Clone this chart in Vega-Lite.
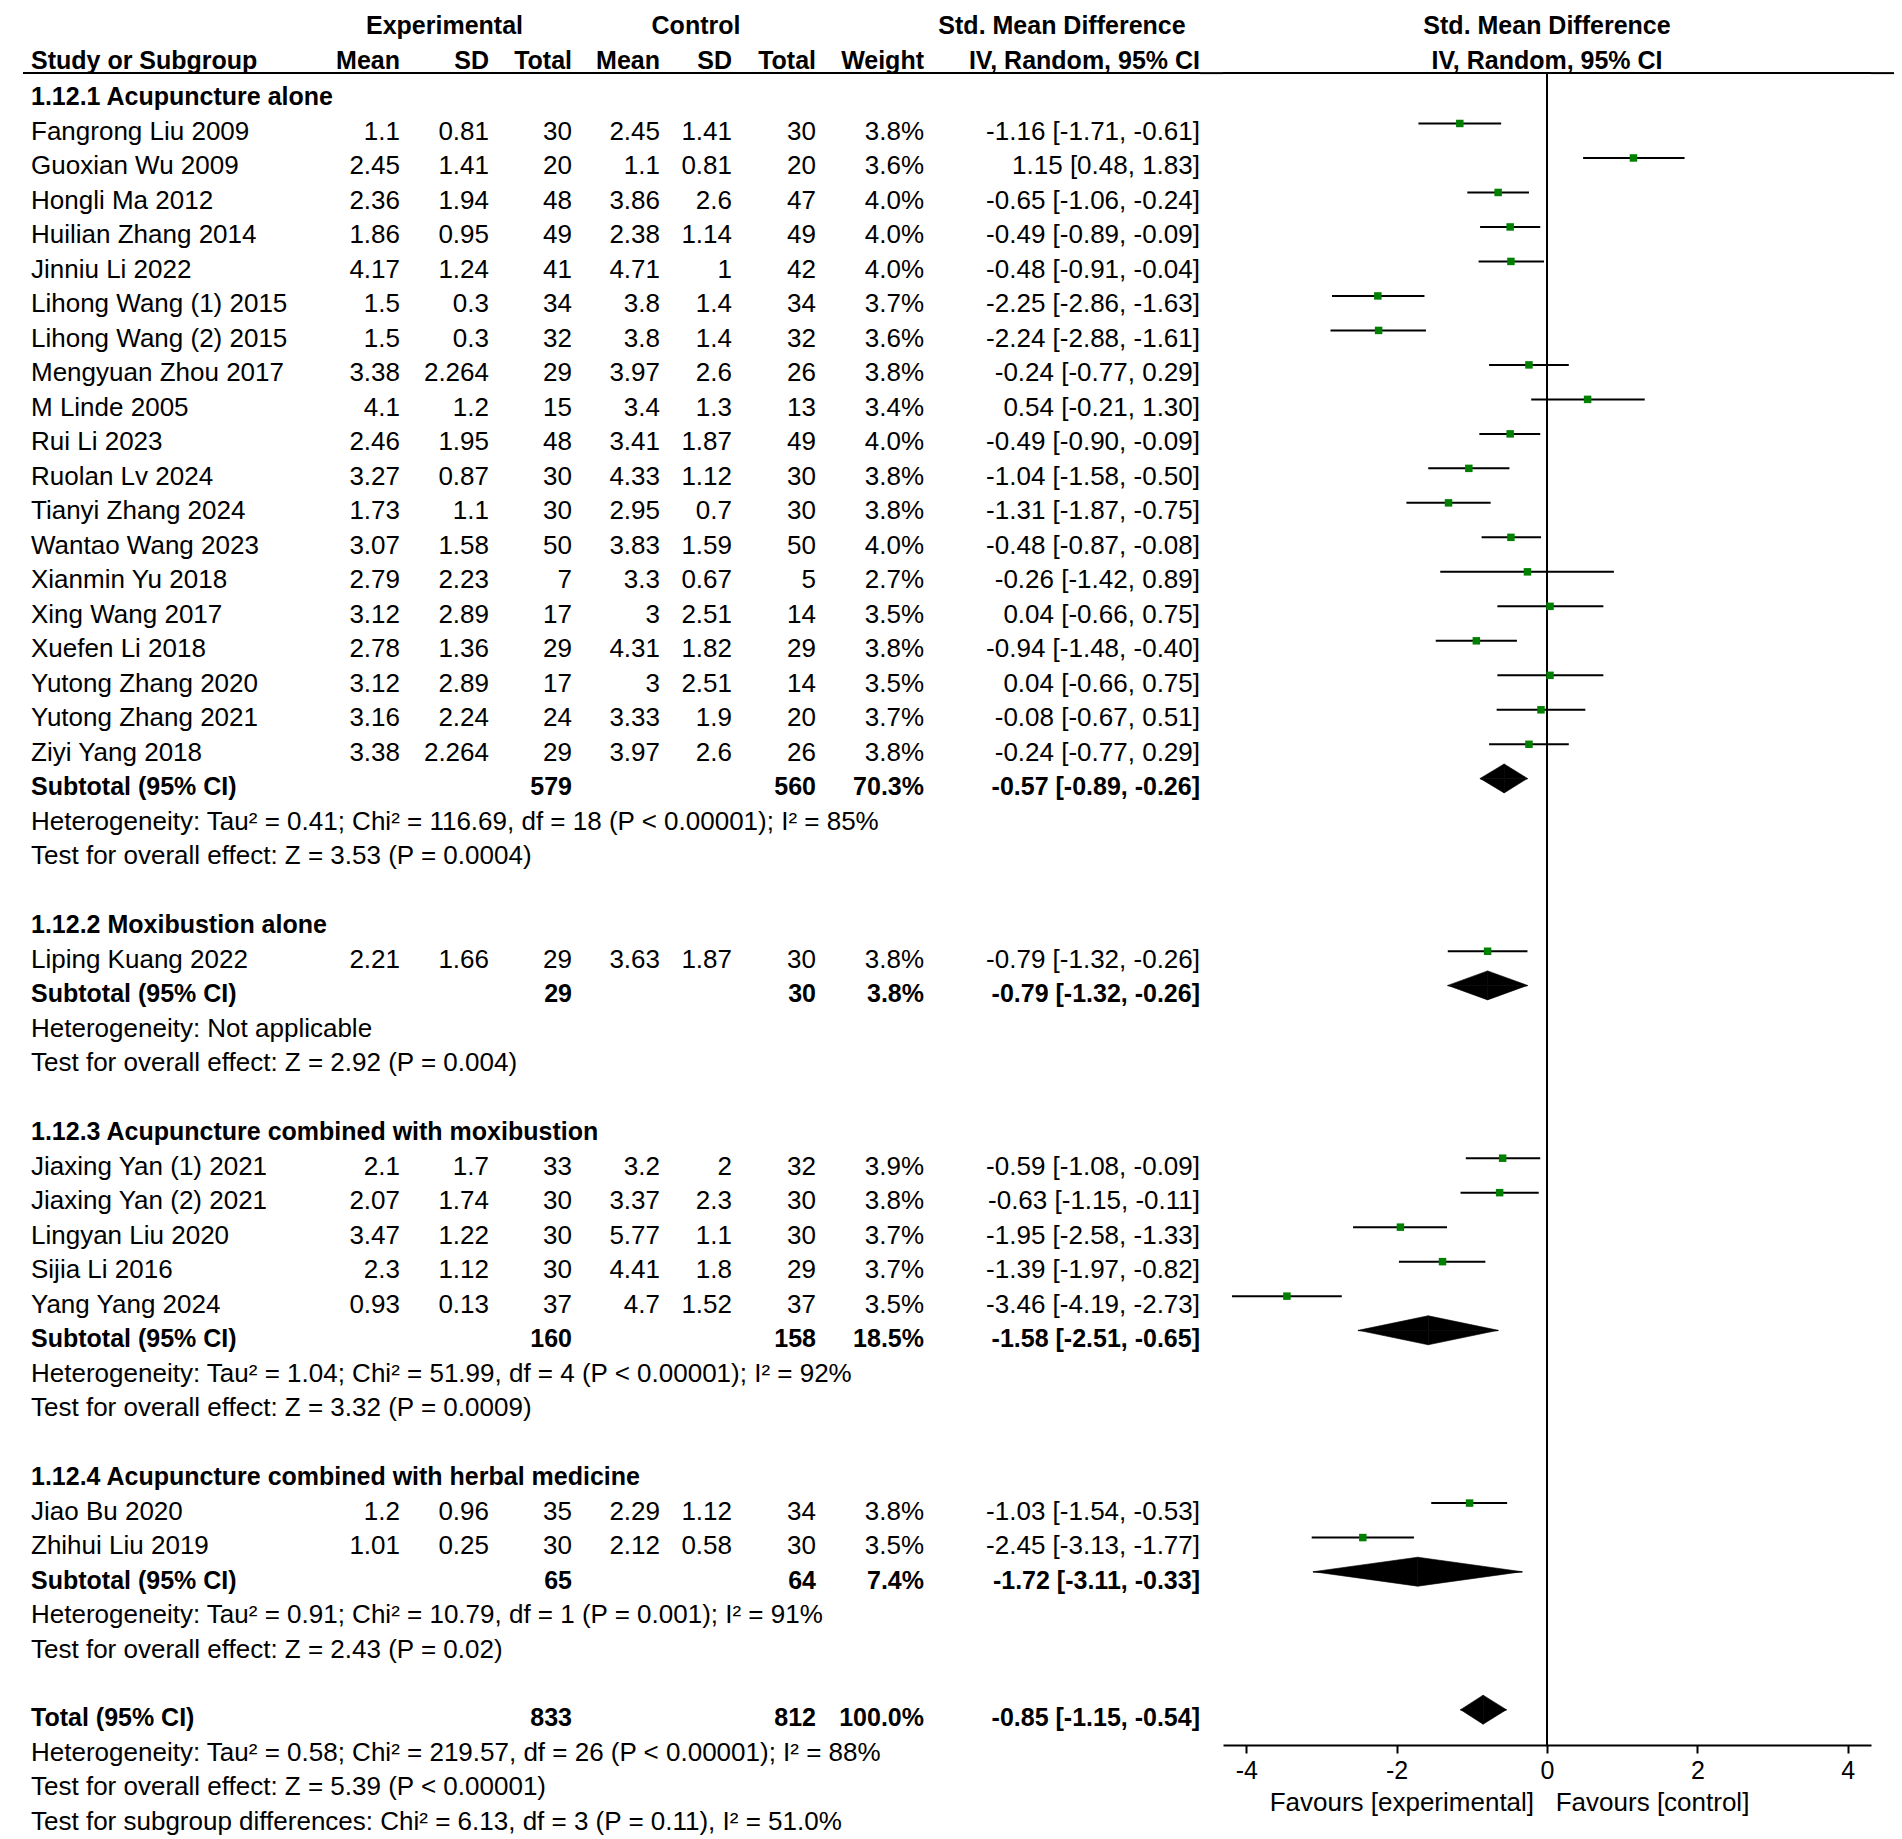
{
  "$schema": "https://vega.github.io/schema/vega-lite/v6.json",
  "padding": {"left": 22, "top": 0, "right": 9, "bottom": 0},
  "background": "white",
  "bounds": "flush",
  "spacing": 0,
  "config": {
    "view": {"stroke": null},
    "text": {"font": "Liberation Sans", "fontSize": 26, "color": "black", "baseline": "middle"},
    "axis": {"labelFont": "Liberation Sans", "titleFont": "Liberation Sans"}
  },
  "datasets": {
    "heads": [
      {"row": 1, "col": "study", "text": "Study or Subgroup"},
      {"row": 0, "col": "esd", "text": "Experimental"},
      {"row": 1, "col": "em", "text": "Mean"},
      {"row": 1, "col": "esd", "text": "SD"},
      {"row": 1, "col": "en", "text": "Total"},
      {"row": 0, "col": "csd", "text": "Control"},
      {"row": 1, "col": "cm", "text": "Mean"},
      {"row": 1, "col": "csd", "text": "SD"},
      {"row": 1, "col": "cn", "text": "Total"},
      {"row": 1, "col": "w", "text": "Weight"},
      {"row": 0, "col": "ci", "text": "Std. Mean Difference"},
      {"row": 1, "col": "ci", "text": "IV, Random, 95% CI"},
      {"row": 0, "col": "plot", "text": "Std. Mean Difference"},
      {"row": 1, "col": "plot", "text": "IV, Random, 95% CI"}
    ],
    "rows": [
      {"row": 2, "kind": "group", "label": "1.12.1 Acupuncture alone"},
      {"row": 3, "kind": "study", "label": "Fangrong Liu 2009", "em": 1.1, "esd": 0.81, "en": 30, "cm": 2.45, "csd": 1.41, "cn": 30, "w": 0.038, "ci": "-1.16 [-1.71, -0.61]", "smd": -1.16, "lo": -1.71, "hi": -0.61},
      {"row": 4, "kind": "study", "label": "Guoxian Wu 2009", "em": 2.45, "esd": 1.41, "en": 20, "cm": 1.1, "csd": 0.81, "cn": 20, "w": 0.036, "ci": "1.15 [0.48, 1.83]", "smd": 1.15, "lo": 0.48, "hi": 1.83},
      {"row": 5, "kind": "study", "label": "Hongli Ma 2012", "em": 2.36, "esd": 1.94, "en": 48, "cm": 3.86, "csd": 2.6, "cn": 47, "w": 0.04, "ci": "-0.65 [-1.06, -0.24]", "smd": -0.65, "lo": -1.06, "hi": -0.24},
      {"row": 6, "kind": "study", "label": "Huilian Zhang 2014", "em": 1.86, "esd": 0.95, "en": 49, "cm": 2.38, "csd": 1.14, "cn": 49, "w": 0.04, "ci": "-0.49 [-0.89, -0.09]", "smd": -0.49, "lo": -0.89, "hi": -0.09},
      {"row": 7, "kind": "study", "label": "Jinniu Li 2022", "em": 4.17, "esd": 1.24, "en": 41, "cm": 4.71, "csd": 1, "cn": 42, "w": 0.04, "ci": "-0.48 [-0.91, -0.04]", "smd": -0.48, "lo": -0.91, "hi": -0.04},
      {"row": 8, "kind": "study", "label": "Lihong Wang (1) 2015", "em": 1.5, "esd": 0.3, "en": 34, "cm": 3.8, "csd": 1.4, "cn": 34, "w": 0.037, "ci": "-2.25 [-2.86, -1.63]", "smd": -2.25, "lo": -2.86, "hi": -1.63},
      {"row": 9, "kind": "study", "label": "Lihong Wang (2) 2015", "em": 1.5, "esd": 0.3, "en": 32, "cm": 3.8, "csd": 1.4, "cn": 32, "w": 0.036, "ci": "-2.24 [-2.88, -1.61]", "smd": -2.24, "lo": -2.88, "hi": -1.61},
      {"row": 10, "kind": "study", "label": "Mengyuan Zhou 2017", "em": 3.38, "esd": 2.264, "en": 29, "cm": 3.97, "csd": 2.6, "cn": 26, "w": 0.038, "ci": "-0.24 [-0.77, 0.29]", "smd": -0.24, "lo": -0.77, "hi": 0.29},
      {"row": 11, "kind": "study", "label": "M Linde 2005", "em": 4.1, "esd": 1.2, "en": 15, "cm": 3.4, "csd": 1.3, "cn": 13, "w": 0.034, "ci": "0.54 [-0.21, 1.30]", "smd": 0.54, "lo": -0.21, "hi": 1.3},
      {"row": 12, "kind": "study", "label": "Rui Li 2023", "em": 2.46, "esd": 1.95, "en": 48, "cm": 3.41, "csd": 1.87, "cn": 49, "w": 0.04, "ci": "-0.49 [-0.90, -0.09]", "smd": -0.49, "lo": -0.9, "hi": -0.09},
      {"row": 13, "kind": "study", "label": "Ruolan Lv 2024", "em": 3.27, "esd": 0.87, "en": 30, "cm": 4.33, "csd": 1.12, "cn": 30, "w": 0.038, "ci": "-1.04 [-1.58, -0.50]", "smd": -1.04, "lo": -1.58, "hi": -0.5},
      {"row": 14, "kind": "study", "label": "Tianyi Zhang 2024", "em": 1.73, "esd": 1.1, "en": 30, "cm": 2.95, "csd": 0.7, "cn": 30, "w": 0.038, "ci": "-1.31 [-1.87, -0.75]", "smd": -1.31, "lo": -1.87, "hi": -0.75},
      {"row": 15, "kind": "study", "label": "Wantao Wang 2023", "em": 3.07, "esd": 1.58, "en": 50, "cm": 3.83, "csd": 1.59, "cn": 50, "w": 0.04, "ci": "-0.48 [-0.87, -0.08]", "smd": -0.48, "lo": -0.87, "hi": -0.08},
      {"row": 16, "kind": "study", "label": "Xianmin Yu 2018", "em": 2.79, "esd": 2.23, "en": 7, "cm": 3.3, "csd": 0.67, "cn": 5, "w": 0.027, "ci": "-0.26 [-1.42, 0.89]", "smd": -0.26, "lo": -1.42, "hi": 0.89},
      {"row": 17, "kind": "study", "label": "Xing Wang 2017", "em": 3.12, "esd": 2.89, "en": 17, "cm": 3, "csd": 2.51, "cn": 14, "w": 0.035, "ci": "0.04 [-0.66, 0.75]", "smd": 0.04, "lo": -0.66, "hi": 0.75},
      {"row": 18, "kind": "study", "label": "Xuefen Li 2018", "em": 2.78, "esd": 1.36, "en": 29, "cm": 4.31, "csd": 1.82, "cn": 29, "w": 0.038, "ci": "-0.94 [-1.48, -0.40]", "smd": -0.94, "lo": -1.48, "hi": -0.4},
      {"row": 19, "kind": "study", "label": "Yutong Zhang 2020", "em": 3.12, "esd": 2.89, "en": 17, "cm": 3, "csd": 2.51, "cn": 14, "w": 0.035, "ci": "0.04 [-0.66, 0.75]", "smd": 0.04, "lo": -0.66, "hi": 0.75},
      {"row": 20, "kind": "study", "label": "Yutong Zhang 2021", "em": 3.16, "esd": 2.24, "en": 24, "cm": 3.33, "csd": 1.9, "cn": 20, "w": 0.037, "ci": "-0.08 [-0.67, 0.51]", "smd": -0.08, "lo": -0.67, "hi": 0.51},
      {"row": 21, "kind": "study", "label": "Ziyi Yang 2018", "em": 3.38, "esd": 2.264, "en": 29, "cm": 3.97, "csd": 2.6, "cn": 26, "w": 0.038, "ci": "-0.24 [-0.77, 0.29]", "smd": -0.24, "lo": -0.77, "hi": 0.29},
      {"row": 22, "kind": "subtotal", "label": "Subtotal (95% CI)", "en": 579, "cn": 560, "w": 0.703, "ci": "-0.57 [-0.89, -0.26]", "smd": -0.57, "lo": -0.89, "hi": -0.26},
      {"row": 23, "kind": "note", "label": "Heterogeneity: Tau² = 0.41; Chi² = 116.69, df = 18 (P < 0.00001); I² = 85%"},
      {"row": 24, "kind": "note", "label": "Test for overall effect: Z = 3.53 (P = 0.0004)"},
      {"row": 26, "kind": "group", "label": "1.12.2 Moxibustion alone"},
      {"row": 27, "kind": "study", "label": "Liping Kuang 2022", "em": 2.21, "esd": 1.66, "en": 29, "cm": 3.63, "csd": 1.87, "cn": 30, "w": 0.038, "ci": "-0.79 [-1.32, -0.26]", "smd": -0.79, "lo": -1.32, "hi": -0.26},
      {"row": 28, "kind": "subtotal", "label": "Subtotal (95% CI)", "en": 29, "cn": 30, "w": 0.038, "ci": "-0.79 [-1.32, -0.26]", "smd": -0.79, "lo": -1.32, "hi": -0.26},
      {"row": 29, "kind": "note", "label": "Heterogeneity: Not applicable"},
      {"row": 30, "kind": "note", "label": "Test for overall effect: Z = 2.92 (P = 0.004)"},
      {"row": 32, "kind": "group", "label": "1.12.3 Acupuncture combined with moxibustion"},
      {"row": 33, "kind": "study", "label": "Jiaxing Yan (1) 2021", "em": 2.1, "esd": 1.7, "en": 33, "cm": 3.2, "csd": 2, "cn": 32, "w": 0.039, "ci": "-0.59 [-1.08, -0.09]", "smd": -0.59, "lo": -1.08, "hi": -0.09},
      {"row": 34, "kind": "study", "label": "Jiaxing Yan (2) 2021", "em": 2.07, "esd": 1.74, "en": 30, "cm": 3.37, "csd": 2.3, "cn": 30, "w": 0.038, "ci": "-0.63 [-1.15, -0.11]", "smd": -0.63, "lo": -1.15, "hi": -0.11},
      {"row": 35, "kind": "study", "label": "Lingyan Liu 2020", "em": 3.47, "esd": 1.22, "en": 30, "cm": 5.77, "csd": 1.1, "cn": 30, "w": 0.037, "ci": "-1.95 [-2.58, -1.33]", "smd": -1.95, "lo": -2.58, "hi": -1.33},
      {"row": 36, "kind": "study", "label": "Sijia Li 2016", "em": 2.3, "esd": 1.12, "en": 30, "cm": 4.41, "csd": 1.8, "cn": 29, "w": 0.037, "ci": "-1.39 [-1.97, -0.82]", "smd": -1.39, "lo": -1.97, "hi": -0.82},
      {"row": 37, "kind": "study", "label": "Yang Yang 2024", "em": 0.93, "esd": 0.13, "en": 37, "cm": 4.7, "csd": 1.52, "cn": 37, "w": 0.035, "ci": "-3.46 [-4.19, -2.73]", "smd": -3.46, "lo": -4.19, "hi": -2.73},
      {"row": 38, "kind": "subtotal", "label": "Subtotal (95% CI)", "en": 160, "cn": 158, "w": 0.185, "ci": "-1.58 [-2.51, -0.65]", "smd": -1.58, "lo": -2.51, "hi": -0.65},
      {"row": 39, "kind": "note", "label": "Heterogeneity: Tau² = 1.04; Chi² = 51.99, df = 4 (P < 0.00001); I² = 92%"},
      {"row": 40, "kind": "note", "label": "Test for overall effect: Z = 3.32 (P = 0.0009)"},
      {"row": 42, "kind": "group", "label": "1.12.4 Acupuncture combined with herbal medicine"},
      {"row": 43, "kind": "study", "label": "Jiao Bu 2020", "em": 1.2, "esd": 0.96, "en": 35, "cm": 2.29, "csd": 1.12, "cn": 34, "w": 0.038, "ci": "-1.03 [-1.54, -0.53]", "smd": -1.03, "lo": -1.54, "hi": -0.53},
      {"row": 44, "kind": "study", "label": "Zhihui Liu 2019", "em": 1.01, "esd": 0.25, "en": 30, "cm": 2.12, "csd": 0.58, "cn": 30, "w": 0.035, "ci": "-2.45 [-3.13, -1.77]", "smd": -2.45, "lo": -3.13, "hi": -1.77},
      {"row": 45, "kind": "subtotal", "label": "Subtotal (95% CI)", "en": 65, "cn": 64, "w": 0.074, "ci": "-1.72 [-3.11, -0.33]", "smd": -1.72, "lo": -3.11, "hi": -0.33},
      {"row": 46, "kind": "note", "label": "Heterogeneity: Tau² = 0.91; Chi² = 10.79, df = 1 (P = 0.001); I² = 91%"},
      {"row": 47, "kind": "note", "label": "Test for overall effect: Z = 2.43 (P = 0.02)"},
      {"row": 49, "kind": "total", "label": "Total (95% CI)", "en": 833, "cn": 812, "w": 1.0, "ci": "-0.85 [-1.15, -0.54]", "smd": -0.85, "lo": -1.15, "hi": -0.54},
      {"row": 50, "kind": "note", "label": "Heterogeneity: Tau² = 0.58; Chi² = 219.57, df = 26 (P < 0.00001); I² = 88%"},
      {"row": 51, "kind": "note", "label": "Test for overall effect: Z = 5.39 (P < 0.00001)"},
      {"row": 52, "kind": "note", "label": "Test for subgroup differences: Chi² = 6.13, df = 3 (P = 0.11), I² = 51.0%"}
    ]
  },
  "hconcat": [
    {
      "width": 298, "height": 1839,
      "layer": [
        {"data": {"values": [{}]}, "mark": {"type": "rule", "strokeWidth": 2, "color": "black"}, "encoding": {"y": {"datum": 1.2935, "type": "quantitative", "scale": {"domain": [-0.8263, 52.494], "reverse": true, "nice": false, "zero": false}, "axis": null}}},
        {"data": {"name": "heads"}, "transform": [{"filter": "datum.col == 'study'"}], "mark": {"type": "text", "align": "left", "fontWeight": "bold", "fontSize": 25, "dx": 8, "dy": -2}, "encoding": {"x": {"datum": 0, "type": "quantitative", "scale": {"domain": [0, 1], "nice": false, "zero": false}, "axis": null}, "y": {"field": "row", "type": "quantitative", "scale": {"domain": [-0.8263, 52.494], "reverse": true, "nice": false, "zero": false}, "axis": null}, "text": {"field": "text", "type": "nominal"}}},
        {"data": {"name": "rows"}, "transform": [{"filter": "datum.kind == 'study' || datum.kind == 'note'"}], "mark": {"type": "text", "align": "left", "dx": 8}, "encoding": {"x": {"datum": 0, "type": "quantitative", "scale": {"domain": [0, 1], "nice": false, "zero": false}, "axis": null}, "y": {"field": "row", "type": "quantitative", "scale": {"domain": [-0.8263, 52.494], "reverse": true, "nice": false, "zero": false}, "axis": null}, "text": {"field": "label", "type": "nominal"}}},
        {"data": {"name": "rows"}, "transform": [{"filter": "datum.kind == 'group' || datum.kind == 'subtotal' || datum.kind == 'total'"}], "mark": {"type": "text", "align": "left", "fontWeight": "bold", "fontSize": 25, "dx": 8}, "encoding": {"x": {"datum": 0, "type": "quantitative", "scale": {"domain": [0, 1], "nice": false, "zero": false}, "axis": null}, "y": {"field": "row", "type": "quantitative", "scale": {"domain": [-0.8263, 52.494], "reverse": true, "nice": false, "zero": false}, "axis": null}, "text": {"field": "label", "type": "nominal"}}}
      ]
    },
    {
      "width": 79, "height": 1839,
      "layer": [
        {"data": {"values": [{}]}, "mark": {"type": "rule", "strokeWidth": 2, "color": "black"}, "encoding": {"y": {"datum": 1.2935, "type": "quantitative", "scale": {"domain": [-0.8263, 52.494], "reverse": true, "nice": false, "zero": false}, "axis": null}}},
        {"data": {"name": "heads"}, "transform": [{"filter": "datum.col == 'em'"}], "mark": {"type": "text", "align": "right", "fontWeight": "bold", "fontSize": 25, "dy": -2}, "encoding": {"x": {"datum": 1, "type": "quantitative", "scale": {"domain": [0, 1], "nice": false, "zero": false}, "axis": null}, "y": {"field": "row", "type": "quantitative", "scale": {"domain": [-0.8263, 52.494], "reverse": true, "nice": false, "zero": false}, "axis": null}, "text": {"field": "text", "type": "nominal"}}},
        {"data": {"name": "rows"}, "transform": [{"filter": "datum.kind == 'study'"}], "mark": {"type": "text", "align": "right"}, "encoding": {"x": {"datum": 1, "type": "quantitative", "scale": {"domain": [0, 1], "nice": false, "zero": false}, "axis": null}, "y": {"field": "row", "type": "quantitative", "scale": {"domain": [-0.8263, 52.494], "reverse": true, "nice": false, "zero": false}, "axis": null}, "text": {"field": "em", "type": "nominal"}}}
      ]
    },
    {
      "width": 89, "height": 1839,
      "layer": [
        {"data": {"values": [{}]}, "mark": {"type": "rule", "strokeWidth": 2, "color": "black"}, "encoding": {"y": {"datum": 1.2935, "type": "quantitative", "scale": {"domain": [-0.8263, 52.494], "reverse": true, "nice": false, "zero": false}, "axis": null}}},
        {"data": {"name": "heads"}, "transform": [{"filter": "datum.col == 'esd' && datum.row == 1"}], "mark": {"type": "text", "align": "right", "fontWeight": "bold", "fontSize": 25, "dy": -2}, "encoding": {"x": {"datum": 1, "type": "quantitative", "scale": {"domain": [0, 1], "nice": false, "zero": false}, "axis": null}, "y": {"field": "row", "type": "quantitative", "scale": {"domain": [-0.8263, 52.494], "reverse": true, "nice": false, "zero": false}, "axis": null}, "text": {"field": "text", "type": "nominal"}}},
        {"data": {"name": "heads"}, "transform": [{"filter": "datum.col == 'esd' && datum.row == 0"}], "mark": {"type": "text", "align": "center", "fontWeight": "bold", "fontSize": 25, "dy": -2}, "encoding": {"x": {"datum": 0.5, "type": "quantitative", "scale": {"domain": [0, 1], "nice": false, "zero": false}, "axis": null}, "y": {"field": "row", "type": "quantitative", "scale": {"domain": [-0.8263, 52.494], "reverse": true, "nice": false, "zero": false}, "axis": null}, "text": {"field": "text", "type": "nominal"}}},
        {"data": {"name": "rows"}, "transform": [{"filter": "datum.kind == 'study'"}], "mark": {"type": "text", "align": "right"}, "encoding": {"x": {"datum": 1, "type": "quantitative", "scale": {"domain": [0, 1], "nice": false, "zero": false}, "axis": null}, "y": {"field": "row", "type": "quantitative", "scale": {"domain": [-0.8263, 52.494], "reverse": true, "nice": false, "zero": false}, "axis": null}, "text": {"field": "esd", "type": "nominal"}}}
      ]
    },
    {
      "width": 83, "height": 1839,
      "layer": [
        {"data": {"values": [{}]}, "mark": {"type": "rule", "strokeWidth": 2, "color": "black"}, "encoding": {"y": {"datum": 1.2935, "type": "quantitative", "scale": {"domain": [-0.8263, 52.494], "reverse": true, "nice": false, "zero": false}, "axis": null}}},
        {"data": {"name": "heads"}, "transform": [{"filter": "datum.col == 'en'"}], "mark": {"type": "text", "align": "right", "fontWeight": "bold", "fontSize": 25, "dy": -2}, "encoding": {"x": {"datum": 1, "type": "quantitative", "scale": {"domain": [0, 1], "nice": false, "zero": false}, "axis": null}, "y": {"field": "row", "type": "quantitative", "scale": {"domain": [-0.8263, 52.494], "reverse": true, "nice": false, "zero": false}, "axis": null}, "text": {"field": "text", "type": "nominal"}}},
        {"data": {"name": "rows"}, "transform": [{"filter": "datum.kind == 'study'"}], "mark": {"type": "text", "align": "right"}, "encoding": {"x": {"datum": 1, "type": "quantitative", "scale": {"domain": [0, 1], "nice": false, "zero": false}, "axis": null}, "y": {"field": "row", "type": "quantitative", "scale": {"domain": [-0.8263, 52.494], "reverse": true, "nice": false, "zero": false}, "axis": null}, "text": {"field": "en", "type": "nominal"}}},
        {"data": {"name": "rows"}, "transform": [{"filter": "datum.kind == 'subtotal' || datum.kind == 'total'"}], "mark": {"type": "text", "align": "right", "fontWeight": "bold", "fontSize": 25}, "encoding": {"x": {"datum": 1, "type": "quantitative", "scale": {"domain": [0, 1], "nice": false, "zero": false}, "axis": null}, "y": {"field": "row", "type": "quantitative", "scale": {"domain": [-0.8263, 52.494], "reverse": true, "nice": false, "zero": false}, "axis": null}, "text": {"field": "en", "type": "nominal"}}}
      ]
    },
    {
      "width": 88, "height": 1839,
      "layer": [
        {"data": {"values": [{}]}, "mark": {"type": "rule", "strokeWidth": 2, "color": "black"}, "encoding": {"y": {"datum": 1.2935, "type": "quantitative", "scale": {"domain": [-0.8263, 52.494], "reverse": true, "nice": false, "zero": false}, "axis": null}}},
        {"data": {"name": "heads"}, "transform": [{"filter": "datum.col == 'cm'"}], "mark": {"type": "text", "align": "right", "fontWeight": "bold", "fontSize": 25, "dy": -2}, "encoding": {"x": {"datum": 1, "type": "quantitative", "scale": {"domain": [0, 1], "nice": false, "zero": false}, "axis": null}, "y": {"field": "row", "type": "quantitative", "scale": {"domain": [-0.8263, 52.494], "reverse": true, "nice": false, "zero": false}, "axis": null}, "text": {"field": "text", "type": "nominal"}}},
        {"data": {"name": "rows"}, "transform": [{"filter": "datum.kind == 'study'"}], "mark": {"type": "text", "align": "right"}, "encoding": {"x": {"datum": 1, "type": "quantitative", "scale": {"domain": [0, 1], "nice": false, "zero": false}, "axis": null}, "y": {"field": "row", "type": "quantitative", "scale": {"domain": [-0.8263, 52.494], "reverse": true, "nice": false, "zero": false}, "axis": null}, "text": {"field": "cm", "type": "nominal"}}}
      ]
    },
    {
      "width": 72, "height": 1839,
      "layer": [
        {"data": {"values": [{}]}, "mark": {"type": "rule", "strokeWidth": 2, "color": "black"}, "encoding": {"y": {"datum": 1.2935, "type": "quantitative", "scale": {"domain": [-0.8263, 52.494], "reverse": true, "nice": false, "zero": false}, "axis": null}}},
        {"data": {"name": "heads"}, "transform": [{"filter": "datum.col == 'csd' && datum.row == 1"}], "mark": {"type": "text", "align": "right", "fontWeight": "bold", "fontSize": 25, "dy": -2}, "encoding": {"x": {"datum": 1, "type": "quantitative", "scale": {"domain": [0, 1], "nice": false, "zero": false}, "axis": null}, "y": {"field": "row", "type": "quantitative", "scale": {"domain": [-0.8263, 52.494], "reverse": true, "nice": false, "zero": false}, "axis": null}, "text": {"field": "text", "type": "nominal"}}},
        {"data": {"name": "heads"}, "transform": [{"filter": "datum.col == 'csd' && datum.row == 0"}], "mark": {"type": "text", "align": "center", "fontWeight": "bold", "fontSize": 25, "dy": -2}, "encoding": {"x": {"datum": 0.5, "type": "quantitative", "scale": {"domain": [0, 1], "nice": false, "zero": false}, "axis": null}, "y": {"field": "row", "type": "quantitative", "scale": {"domain": [-0.8263, 52.494], "reverse": true, "nice": false, "zero": false}, "axis": null}, "text": {"field": "text", "type": "nominal"}}},
        {"data": {"name": "rows"}, "transform": [{"filter": "datum.kind == 'study'"}], "mark": {"type": "text", "align": "right"}, "encoding": {"x": {"datum": 1, "type": "quantitative", "scale": {"domain": [0, 1], "nice": false, "zero": false}, "axis": null}, "y": {"field": "row", "type": "quantitative", "scale": {"domain": [-0.8263, 52.494], "reverse": true, "nice": false, "zero": false}, "axis": null}, "text": {"field": "csd", "type": "nominal"}}}
      ]
    },
    {
      "width": 84, "height": 1839,
      "layer": [
        {"data": {"values": [{}]}, "mark": {"type": "rule", "strokeWidth": 2, "color": "black"}, "encoding": {"y": {"datum": 1.2935, "type": "quantitative", "scale": {"domain": [-0.8263, 52.494], "reverse": true, "nice": false, "zero": false}, "axis": null}}},
        {"data": {"name": "heads"}, "transform": [{"filter": "datum.col == 'cn'"}], "mark": {"type": "text", "align": "right", "fontWeight": "bold", "fontSize": 25, "dy": -2}, "encoding": {"x": {"datum": 1, "type": "quantitative", "scale": {"domain": [0, 1], "nice": false, "zero": false}, "axis": null}, "y": {"field": "row", "type": "quantitative", "scale": {"domain": [-0.8263, 52.494], "reverse": true, "nice": false, "zero": false}, "axis": null}, "text": {"field": "text", "type": "nominal"}}},
        {"data": {"name": "rows"}, "transform": [{"filter": "datum.kind == 'study'"}], "mark": {"type": "text", "align": "right"}, "encoding": {"x": {"datum": 1, "type": "quantitative", "scale": {"domain": [0, 1], "nice": false, "zero": false}, "axis": null}, "y": {"field": "row", "type": "quantitative", "scale": {"domain": [-0.8263, 52.494], "reverse": true, "nice": false, "zero": false}, "axis": null}, "text": {"field": "cn", "type": "nominal"}}},
        {"data": {"name": "rows"}, "transform": [{"filter": "datum.kind == 'subtotal' || datum.kind == 'total'"}], "mark": {"type": "text", "align": "right", "fontWeight": "bold", "fontSize": 25}, "encoding": {"x": {"datum": 1, "type": "quantitative", "scale": {"domain": [0, 1], "nice": false, "zero": false}, "axis": null}, "y": {"field": "row", "type": "quantitative", "scale": {"domain": [-0.8263, 52.494], "reverse": true, "nice": false, "zero": false}, "axis": null}, "text": {"field": "cn", "type": "nominal"}}}
      ]
    },
    {
      "width": 108, "height": 1839,
      "layer": [
        {"data": {"values": [{}]}, "mark": {"type": "rule", "strokeWidth": 2, "color": "black"}, "encoding": {"y": {"datum": 1.2935, "type": "quantitative", "scale": {"domain": [-0.8263, 52.494], "reverse": true, "nice": false, "zero": false}, "axis": null}}},
        {"data": {"name": "heads"}, "transform": [{"filter": "datum.col == 'w'"}], "mark": {"type": "text", "align": "right", "fontWeight": "bold", "fontSize": 25, "dy": -2}, "encoding": {"x": {"datum": 1, "type": "quantitative", "scale": {"domain": [0, 1], "nice": false, "zero": false}, "axis": null}, "y": {"field": "row", "type": "quantitative", "scale": {"domain": [-0.8263, 52.494], "reverse": true, "nice": false, "zero": false}, "axis": null}, "text": {"field": "text", "type": "nominal"}}},
        {"data": {"name": "rows"}, "transform": [{"filter": "datum.kind == 'study'"}], "mark": {"type": "text", "align": "right"}, "encoding": {"x": {"datum": 1, "type": "quantitative", "scale": {"domain": [0, 1], "nice": false, "zero": false}, "axis": null}, "y": {"field": "row", "type": "quantitative", "scale": {"domain": [-0.8263, 52.494], "reverse": true, "nice": false, "zero": false}, "axis": null}, "text": {"field": "w", "type": "quantitative", "format": ".1%"}}},
        {"data": {"name": "rows"}, "transform": [{"filter": "datum.kind == 'subtotal' || datum.kind == 'total'"}], "mark": {"type": "text", "align": "right", "fontWeight": "bold", "fontSize": 25}, "encoding": {"x": {"datum": 1, "type": "quantitative", "scale": {"domain": [0, 1], "nice": false, "zero": false}, "axis": null}, "y": {"field": "row", "type": "quantitative", "scale": {"domain": [-0.8263, 52.494], "reverse": true, "nice": false, "zero": false}, "axis": null}, "text": {"field": "w", "type": "quantitative", "format": ".1%"}}}
      ]
    },
    {
      "width": 276, "height": 1839,
      "layer": [
        {"data": {"values": [{}]}, "mark": {"type": "rule", "strokeWidth": 2, "color": "black"}, "encoding": {"y": {"datum": 1.2935, "type": "quantitative", "scale": {"domain": [-0.8263, 52.494], "reverse": true, "nice": false, "zero": false}, "axis": null}}},
        {"data": {"name": "heads"}, "transform": [{"filter": "datum.col == 'ci' && datum.row == 1"}], "mark": {"type": "text", "align": "right", "fontWeight": "bold", "fontSize": 25, "dy": -2}, "encoding": {"x": {"datum": 1, "type": "quantitative", "scale": {"domain": [0, 1], "nice": false, "zero": false}, "axis": null}, "y": {"field": "row", "type": "quantitative", "scale": {"domain": [-0.8263, 52.494], "reverse": true, "nice": false, "zero": false}, "axis": null}, "text": {"field": "text", "type": "nominal"}}},
        {"data": {"name": "heads"}, "transform": [{"filter": "datum.col == 'ci' && datum.row == 0"}], "mark": {"type": "text", "align": "center", "fontWeight": "bold", "fontSize": 25, "dy": -2}, "encoding": {"x": {"datum": 0.5, "type": "quantitative", "scale": {"domain": [0, 1], "nice": false, "zero": false}, "axis": null}, "y": {"field": "row", "type": "quantitative", "scale": {"domain": [-0.8263, 52.494], "reverse": true, "nice": false, "zero": false}, "axis": null}, "text": {"field": "text", "type": "nominal"}}},
        {"data": {"name": "rows"}, "transform": [{"filter": "datum.kind == 'study'"}], "mark": {"type": "text", "align": "right"}, "encoding": {"x": {"datum": 1, "type": "quantitative", "scale": {"domain": [0, 1], "nice": false, "zero": false}, "axis": null}, "y": {"field": "row", "type": "quantitative", "scale": {"domain": [-0.8263, 52.494], "reverse": true, "nice": false, "zero": false}, "axis": null}, "text": {"field": "ci", "type": "nominal"}}},
        {"data": {"name": "rows"}, "transform": [{"filter": "datum.kind == 'subtotal' || datum.kind == 'total'"}], "mark": {"type": "text", "align": "right", "fontWeight": "bold", "fontSize": 25}, "encoding": {"x": {"datum": 1, "type": "quantitative", "scale": {"domain": [0, 1], "nice": false, "zero": false}, "axis": null}, "y": {"field": "row", "type": "quantitative", "scale": {"domain": [-0.8263, 52.494], "reverse": true, "nice": false, "zero": false}, "axis": null}, "text": {"field": "ci", "type": "nominal"}}}
      ]
    },
    {
      "width": 23, "height": 1839,
      "layer": [
        {"data": {"values": [{}]}, "mark": {"type": "rule", "strokeWidth": 2, "color": "black"}, "encoding": {"y": {"datum": 1.2935, "type": "quantitative", "scale": {"domain": [-0.8263, 52.494], "reverse": true, "nice": false, "zero": false}, "axis": null}}}
      ]
    },
    {
      "width": 648, "height": 1745,
      "resolve": {"scale": {"y": "independent", "yOffset": "independent"}},
      "layer": [
        {"data": {"values": [{}]}, "mark": {"type": "rule", "strokeWidth": 2, "color": "black"}, "encoding": {"y": {"datum": 1.54, "type": "quantitative", "scale": {"domain": [-0.5798, 50.014], "reverse": true, "nice": false, "zero": false}, "axis": null}}},
        {"data": {"values": [{}]}, "mark": {"type": "rule", "strokeWidth": 2, "color": "black"},
          "encoding": {
            "x": {"datum": 0, "type": "quantitative", "scale": {"domain": [-4.31, 4.31], "nice": false, "zero": false},
              "axis": {"values": [-4, -2, 0, 2, 4], "labelExpr": "'' + datum.value", "domain": true, "domainColor": "black", "domainWidth": 2, "ticks": true, "tickColor": "black", "tickWidth": 2, "tickSize": 8, "grid": false, "labelFontSize": 25, "labelColor": "black", "labelPadding": 5, "labelFlush": false, "labelOverlap": false, "title": "Favours [experimental]\u00a0\u00a0\u00a0Favours [control]", "titleFontSize": 26, "titleFontWeight": "normal", "titleColor": "black", "titleX": 286, "titleY": 57, "titleAlign": "center", "titleBaseline": "middle"}},
            "y": {"datum": 1.54, "type": "quantitative", "scale": {"domain": [-0.5798, 50.014], "reverse": true, "nice": false, "zero": false}, "axis": null},
            "y2": {"datum": 50.014}
          }},
        {"data": {"name": "rows"}, "transform": [{"filter": "datum.kind == 'study'"}], "mark": {"type": "rule", "strokeWidth": 2, "color": "black"},
          "encoding": {
            "x": {"field": "lo", "type": "quantitative", "scale": {"domain": [-4.31, 4.31], "nice": false, "zero": false},
              "axis": {"values": [-4, -2, 0, 2, 4], "labelExpr": "'' + datum.value", "domain": true, "domainColor": "black", "domainWidth": 2, "ticks": true, "tickColor": "black", "tickWidth": 2, "tickSize": 8, "grid": false, "labelFontSize": 25, "labelColor": "black", "labelPadding": 5, "labelFlush": false, "labelOverlap": false, "title": "Favours [experimental]\u00a0\u00a0\u00a0Favours [control]", "titleFontSize": 26, "titleFontWeight": "normal", "titleColor": "black", "titleX": 286, "titleY": 57, "titleAlign": "center", "titleBaseline": "middle"}},
            "x2": {"field": "hi"},
            "y": {"field": "row", "type": "quantitative", "scale": {"domain": [-0.5798, 50.014], "reverse": true, "nice": false, "zero": false}, "axis": null}
          }},
        {"data": {"name": "rows"}, "transform": [{"filter": "datum.kind == 'study'"}], "mark": {"type": "point", "shape": "square", "filled": true, "color": "#008000", "opacity": 1, "size": 56},
          "encoding": {
            "x": {"field": "smd", "type": "quantitative", "scale": {"domain": [-4.31, 4.31], "nice": false, "zero": false},
              "axis": {"values": [-4, -2, 0, 2, 4], "labelExpr": "'' + datum.value", "domain": true, "domainColor": "black", "domainWidth": 2, "ticks": true, "tickColor": "black", "tickWidth": 2, "tickSize": 8, "grid": false, "labelFontSize": 25, "labelColor": "black", "labelPadding": 5, "labelFlush": false, "labelOverlap": false, "title": "Favours [experimental]\u00a0\u00a0\u00a0Favours [control]", "titleFontSize": 26, "titleFontWeight": "normal", "titleColor": "black", "titleX": 286, "titleY": 57, "titleAlign": "center", "titleBaseline": "middle"}},
            "y": {"field": "row", "type": "quantitative", "scale": {"domain": [-0.5798, 50.014], "reverse": true, "nice": false, "zero": false}, "axis": null}
          }},
        {"data": {"name": "rows"}, "transform": [{"filter": "datum.kind == 'subtotal' || datum.kind == 'total'"}, {"fold": ["lo", "smd"], "as": ["pt", "val"]}],
          "mark": {"type": "area", "orient": "vertical", "color": "black", "stroke": "black", "strokeWidth": 0.6, "opacity": 1},
          "encoding": {
            "x": {"field": "val", "type": "quantitative", "scale": {"domain": [-4.31, 4.31], "nice": false, "zero": false},
              "axis": {"values": [-4, -2, 0, 2, 4], "labelExpr": "'' + datum.value", "domain": true, "domainColor": "black", "domainWidth": 2, "ticks": true, "tickColor": "black", "tickWidth": 2, "tickSize": 8, "grid": false, "labelFontSize": 25, "labelColor": "black", "labelPadding": 5, "labelFlush": false, "labelOverlap": false, "title": "Favours [experimental]\u00a0\u00a0\u00a0Favours [control]", "titleFontSize": 26, "titleFontWeight": "normal", "titleColor": "black", "titleX": 286, "titleY": 57, "titleAlign": "center", "titleBaseline": "middle"}},
            "y": {"field": "row", "type": "ordinal", "scale": {"type": "band", "domain": [0,1,2,3,4,5,6,7,8,9,10,11,12,13,14,15,16,17,18,19,20,21,22,23,24,25,26,27,28,29,30,31,32,33,34,35,36,37,38,39,40,41,42,43,44,45,46,47,48,49], "paddingInner": 0.98, "paddingOuter": 0.787, "align": 0.362}, "axis": null},
            "y2": {"field": "row"},
            "yOffset": {"field": "pt", "type": "nominal", "scale": {"type": "point", "domain": ["lo", "smd"], "range": [0, -14.5], "padding": 0}},
            "detail": {"field": "row", "type": "nominal"}
          }},
        {"data": {"name": "rows"}, "transform": [{"filter": "datum.kind == 'subtotal' || datum.kind == 'total'"}, {"fold": ["smd", "hi"], "as": ["pt", "val"]}],
          "mark": {"type": "area", "orient": "vertical", "color": "black", "stroke": "black", "strokeWidth": 0.6, "opacity": 1},
          "encoding": {
            "x": {"field": "val", "type": "quantitative", "scale": {"domain": [-4.31, 4.31], "nice": false, "zero": false},
              "axis": {"values": [-4, -2, 0, 2, 4], "labelExpr": "'' + datum.value", "domain": true, "domainColor": "black", "domainWidth": 2, "ticks": true, "tickColor": "black", "tickWidth": 2, "tickSize": 8, "grid": false, "labelFontSize": 25, "labelColor": "black", "labelPadding": 5, "labelFlush": false, "labelOverlap": false, "title": "Favours [experimental]\u00a0\u00a0\u00a0Favours [control]", "titleFontSize": 26, "titleFontWeight": "normal", "titleColor": "black", "titleX": 286, "titleY": 57, "titleAlign": "center", "titleBaseline": "middle"}},
            "y": {"field": "row", "type": "ordinal", "scale": {"type": "band", "domain": [0,1,2,3,4,5,6,7,8,9,10,11,12,13,14,15,16,17,18,19,20,21,22,23,24,25,26,27,28,29,30,31,32,33,34,35,36,37,38,39,40,41,42,43,44,45,46,47,48,49], "paddingInner": 0.98, "paddingOuter": 0.787, "align": 0.362}, "axis": null},
            "y2": {"field": "row"},
            "yOffset": {"field": "pt", "type": "nominal", "scale": {"type": "point", "domain": ["smd", "hi"], "range": [-14.5, 0], "padding": 0}},
            "detail": {"field": "row", "type": "nominal"}
          }},
        {"data": {"name": "rows"}, "transform": [{"filter": "datum.kind == 'subtotal' || datum.kind == 'total'"}, {"fold": ["lo", "smd"], "as": ["pt", "val"]}],
          "mark": {"type": "area", "orient": "vertical", "color": "black", "stroke": "black", "strokeWidth": 0.6, "opacity": 1},
          "encoding": {
            "x": {"field": "val", "type": "quantitative", "scale": {"domain": [-4.31, 4.31], "nice": false, "zero": false},
              "axis": {"values": [-4, -2, 0, 2, 4], "labelExpr": "'' + datum.value", "domain": true, "domainColor": "black", "domainWidth": 2, "ticks": true, "tickColor": "black", "tickWidth": 2, "tickSize": 8, "grid": false, "labelFontSize": 25, "labelColor": "black", "labelPadding": 5, "labelFlush": false, "labelOverlap": false, "title": "Favours [experimental]\u00a0\u00a0\u00a0Favours [control]", "titleFontSize": 26, "titleFontWeight": "normal", "titleColor": "black", "titleX": 286, "titleY": 57, "titleAlign": "center", "titleBaseline": "middle"}},
            "y": {"field": "row", "type": "ordinal", "scale": {"type": "band", "domain": [0,1,2,3,4,5,6,7,8,9,10,11,12,13,14,15,16,17,18,19,20,21,22,23,24,25,26,27,28,29,30,31,32,33,34,35,36,37,38,39,40,41,42,43,44,45,46,47,48,49], "paddingInner": 0.98, "paddingOuter": 0.787, "align": 0.362}, "axis": null},
            "y2": {"field": "row"},
            "yOffset": {"field": "pt", "type": "nominal", "scale": {"type": "point", "domain": ["lo", "smd"], "range": [0, 14.5], "padding": 0}},
            "detail": {"field": "row", "type": "nominal"}
          }},
        {"data": {"name": "rows"}, "transform": [{"filter": "datum.kind == 'subtotal' || datum.kind == 'total'"}, {"fold": ["smd", "hi"], "as": ["pt", "val"]}],
          "mark": {"type": "area", "orient": "vertical", "color": "black", "stroke": "black", "strokeWidth": 0.6, "opacity": 1},
          "encoding": {
            "x": {"field": "val", "type": "quantitative", "scale": {"domain": [-4.31, 4.31], "nice": false, "zero": false},
              "axis": {"values": [-4, -2, 0, 2, 4], "labelExpr": "'' + datum.value", "domain": true, "domainColor": "black", "domainWidth": 2, "ticks": true, "tickColor": "black", "tickWidth": 2, "tickSize": 8, "grid": false, "labelFontSize": 25, "labelColor": "black", "labelPadding": 5, "labelFlush": false, "labelOverlap": false, "title": "Favours [experimental]\u00a0\u00a0\u00a0Favours [control]", "titleFontSize": 26, "titleFontWeight": "normal", "titleColor": "black", "titleX": 286, "titleY": 57, "titleAlign": "center", "titleBaseline": "middle"}},
            "y": {"field": "row", "type": "ordinal", "scale": {"type": "band", "domain": [0,1,2,3,4,5,6,7,8,9,10,11,12,13,14,15,16,17,18,19,20,21,22,23,24,25,26,27,28,29,30,31,32,33,34,35,36,37,38,39,40,41,42,43,44,45,46,47,48,49], "paddingInner": 0.98, "paddingOuter": 0.787, "align": 0.362}, "axis": null},
            "y2": {"field": "row"},
            "yOffset": {"field": "pt", "type": "nominal", "scale": {"type": "point", "domain": ["smd", "hi"], "range": [14.5, 0], "padding": 0}},
            "detail": {"field": "row", "type": "nominal"}
          }},
        {"data": {"name": "heads"}, "transform": [{"filter": "datum.col == 'plot'"}], "mark": {"type": "text", "align": "center", "fontWeight": "bold", "fontSize": 25, "dy": 6.5},
          "encoding": {
            "x": {"datum": 0, "type": "quantitative", "scale": {"domain": [-4.31, 4.31], "nice": false, "zero": false},
              "axis": {"values": [-4, -2, 0, 2, 4], "labelExpr": "'' + datum.value", "domain": true, "domainColor": "black", "domainWidth": 2, "ticks": true, "tickColor": "black", "tickWidth": 2, "tickSize": 8, "grid": false, "labelFontSize": 25, "labelColor": "black", "labelPadding": 5, "labelFlush": false, "labelOverlap": false, "title": "Favours [experimental]\u00a0\u00a0\u00a0Favours [control]", "titleFontSize": 26, "titleFontWeight": "normal", "titleColor": "black", "titleX": 286, "titleY": 57, "titleAlign": "center", "titleBaseline": "middle"}},
            "y": {"field": "row", "type": "quantitative", "scale": {"domain": [-0.5798, 50.014], "reverse": true, "nice": false, "zero": false}, "axis": null},
            "text": {"field": "text", "type": "nominal"}
          }}
      ]
    },
    {
      "width": 23, "height": 1839,
      "layer": [
        {"data": {"values": [{}]}, "mark": {"type": "rule", "strokeWidth": 2, "color": "black"}, "encoding": {"y": {"datum": 1.2935, "type": "quantitative", "scale": {"domain": [-0.8263, 52.494], "reverse": true, "nice": false, "zero": false}, "axis": null}}}
      ]
    }
  ]
}
